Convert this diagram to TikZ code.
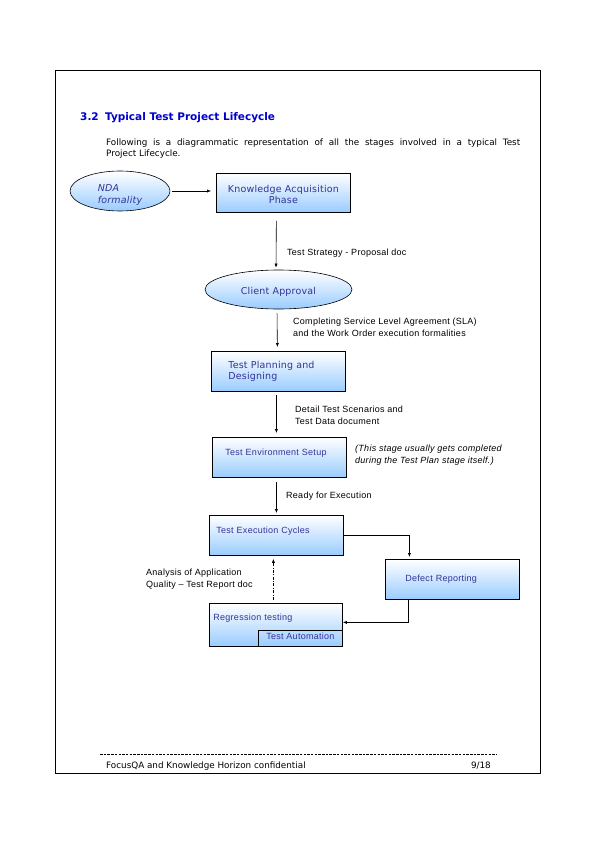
\documentclass[tikz,border=0pt]{standalone}
\usepackage{fontspec}
\setmainfont{DejaVu Sans}
\newfontfamily\boxfont[LetterSpace=2]{DejaVu Sans}
\newfontfamily\arialfont[LetterSpace=3]{Liberation Sans}
\usetikzlibrary{arrows.meta,shapes.geometric}
\definecolor{boxblue}{RGB}{153,204,255}
\definecolor{boxtext}{RGB}{51,51,153}
\definecolor{headblue}{RGB}{0,0,204}
\begin{document}
\begin{tikzpicture}[x=1pt,y=-1pt]
\tikzstyle{every node}+=[inner sep=0pt]
\tikzstyle{stage}=[draw=black, line width=0.8pt, rectangle, top color=white, bottom color=boxblue, text=boxtext, font=\boxfont\fontsize{9.5}{11}\selectfont, minimum width=134pt, minimum height=40pt, anchor=north west]
\tikzstyle{stagearial}=[stage, font=\arialfont\fontsize{9}{11}\selectfont]
\tikzstyle{oval}=[draw=black, line width=0.6pt, ellipse, top color=white, bottom color=boxblue, text=boxtext, font=\boxfont\fontsize{9.5}{11}\selectfont]
\tikzstyle{flow}=[-{Latex[length=4pt,width=3.2pt]}, line width=0.6pt]
\tikzstyle{note}=[font=\arialfont\fontsize{9}{11.5}\selectfont, anchor=west, align=left]
\useasboundingbox (0,0) rectangle (595,842);
% page frame
\draw [line width=0.6pt] (55,70) rectangle (540,773);
\node [anchor=west, text=headblue, font=\bfseries\fontsize{10.5}{12}\selectfont] (title) at (80,118) {3.2\hspace{0.6em}Typical Test Project Lifecycle};
\node [anchor=north west, text width=414pt, align=justify, font=\fontsize{8.8}{11}\selectfont] (intro) at (106,138.5) {Following is a diagrammatic representation of all the stages involved in a typical Test\linebreak Project Lifecycle.};
% stages
\node [oval, minimum width=100pt, minimum height=40pt, align=left, text height=26pt, font=\boxfont\itshape\fontsize{9.5}{12}\selectfont] (nda) at (120,191) {NDA\\formality};
\node [stage, minimum height=39pt, align=center, text height=22pt] (ka) at (216,173) {Knowledge Acquisition\\Phase};
\node [oval, minimum width=147pt, minimum height=39pt, text height=11pt] (ca) at (278.5,289.5) {Client Approval};
\node [stage, text width=100pt, inner xsep=17pt, align=left] (plan) at (211,351) {Test Planning and\\Designing};
\node [stagearial, text width=108pt, inner xsep=13pt, align=left, text depth=10pt] (env) at (212,437) {Test Environment Setup};
\node [stagearial, text width=120pt, inner xsep=7pt, align=left, text depth=10pt] (exec) at (209,515) {Test Execution Cycles};
\node [stagearial, text width=94pt, inner xsep=20pt, align=left] (defect) at (385,559) {Defect Reporting};
\node [stagearial, minimum width=133pt, minimum height=43pt, text width=125pt, inner xsep=4pt, align=left, text depth=15pt] (reg) at (209,603) {Regression testing};
\node [draw=black, line width=0.8pt, anchor=south east, minimum width=84pt, minimum height=16pt, text depth=5pt, text=boxtext, font=\arialfont\fontsize{9}{11}\selectfont] (auto) at (reg.south east) {Test Automation};
% connectors
\draw [flow, shorten <=2pt, shorten >=5pt] (nda.east) -- (nda.east -| ka.west);
\draw [flow, shorten <=8pt, shorten >=2pt] ([xshift=-7pt]ka.south) -- ([xshift=-2.5pt]ca.north);
\draw [flow, shorten <=4pt, shorten >=4pt] ([xshift=-1.5pt]ca.south) -- ([xshift=-1pt]plan.north);
\draw [flow, shorten <=3pt, shorten >=4pt] ([xshift=-2pt]plan.south) -- ([xshift=-3pt]env.north);
\draw [flow, shorten <=4pt, shorten >=2pt] (env.south -| exec.north) -- (exec.north);
\draw [flow, shorten >=2pt] (exec.east) -| ([xshift=-43pt]defect.north);
\draw [flow] ([xshift=-44pt]defect.south) |- ([yshift=2.5pt]reg.east);
\draw [flow, shorten <=3pt, shorten >=3pt, dash pattern=on 3pt off 1.5pt on 0.8pt off 1.5pt] ([xshift=-2.5pt]reg.north) -- ([xshift=-3pt]exec.south);
% connector labels
\node [note] (strategy) at (287,253.5) {Test Strategy - Proposal doc};
\node [note] (sla) at (293,327.5) {Completing Service Level Agreement (SLA)\\and the Work Order execution formalities};
\node [note] (scen) at (295,415.5) {Detail Test Scenarios and\\Test Data document};
\node [note, font=\arialfont\itshape\fontsize{9}{12.5}\selectfont] (remark) at (355,455) {(This stage usually gets completed\\during the Test Plan stage itself.)};
\node [note] (ready) at (286,496.5) {Ready for Execution};
\node [note] (analysis) at (146,579) {Analysis of Application\\Quality – Test Report doc};
% footer
\draw [dash pattern=on 2.5pt off 1.2pt, line width=0.4pt] (100,754) -- (497,754);
\node [anchor=west, font=\fontsize{8.8}{10}\selectfont] (foot) at (106,766) {FocusQA and Knowledge Horizon confidential};
\node [anchor=east, font=\fontsize{8.8}{10}\selectfont] (page) at (491,766) {9/18};
\end{tikzpicture}
\end{document}
